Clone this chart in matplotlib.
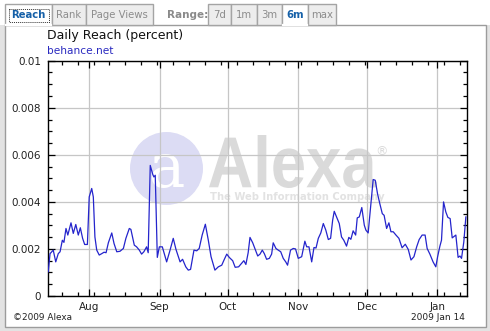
import datetime as dt
import matplotlib
matplotlib.use("Agg")
import matplotlib.pyplot as plt
import matplotlib.dates as mdates
from matplotlib.patches import Rectangle, Circle, PathPatch
from matplotlib.textpath import TextPath
from matplotlib.font_manager import FontProperties
from matplotlib.transforms import Affine2D

plt.rcParams['font.family'] = ['DejaVu Sans']

# ---------------- data ----------------
start_date = dt.datetime(2008, 7, 14)
end_date = dt.datetime(2009, 1, 14)
day_offsets = [0.1, 0.9, 2.3, 3.4, 4.5, 5.3, 6.3, 7.0, 7.9, 8.7, 10.1, 11.1, 12.2, 13.3,
               14.2, 15.2, 16.1, 17.3, 18.1, 19.2, 19.9, 20.6, 21.4, 22.5, 23.6, 24.6,
               25.5, 26.5, 28.0, 29.0, 30.2, 31.6, 33.1, 34.2, 35.7, 36.4, 37.9, 38.9,
               40.1, 41.1, 42.1, 43.3, 44.0, 44.9, 46.0, 46.5, 47.1, 48.0, 48.9, 50.2,
               52.1, 53.6, 55.0, 56.2, 58.0, 59.1, 60.5, 61.6, 62.6, 64.1, 65.3, 66.4,
               67.7, 69.1, 70.4, 71.6, 73.3, 74.8, 76.3, 77.3, 78.5, 79.6, 81.1, 82.2,
               83.7, 85.0, 86.0, 86.9, 87.9, 88.7, 89.9, 90.9, 92.1, 93.1, 94.1, 95.0,
               96.0, 97.2, 98.2, 98.9, 100.1, 101.1, 102.2, 103.3, 104.4, 105.2, 106.5,
               107.7, 108.7, 109.9, 111.4, 112.8, 113.6, 114.6, 115.8, 116.8, 117.7,
               118.7, 119.8, 120.9, 122.0, 123.1, 124.1, 125.0, 125.7, 126.7, 127.9,
               128.9, 129.9, 131.1, 132.1, 133.0, 134.0, 135.1, 135.8, 136.7, 137.8,
               138.9, 139.6, 140.6, 141.8, 142.8, 143.7, 144.7, 145.7, 146.8, 147.6,
               148.7, 149.7, 150.6, 151.6, 152.8, 154.1, 155.5, 156.9, 158.2, 159.4,
               160.7, 161.9, 163.0, 164.3, 165.6, 166.5, 167.7, 169.1, 170.3, 171.1,
               172.1, 172.8, 173.7, 174.7, 175.6, 176.6, 177.5, 179.1, 180.1, 180.9,
               181.6, 182.6, 183.5]
reach_pct = [0.00103, 0.00180, 0.00195, 0.00145, 0.00180, 0.00188, 0.00237, 0.00228,
             0.00287, 0.00259, 0.00311, 0.00266, 0.00304, 0.00259, 0.00290, 0.00245,
             0.00219, 0.00219, 0.00421, 0.00457, 0.00421, 0.00251, 0.00195, 0.00174,
             0.00180, 0.00186, 0.00184, 0.00226, 0.00268, 0.00223, 0.00188, 0.00190,
             0.00202, 0.00245, 0.00287, 0.00283, 0.00216, 0.00209, 0.00195, 0.00178,
             0.00188, 0.00209, 0.00184, 0.00555, 0.00517, 0.00506, 0.00513, 0.00164,
             0.00209, 0.00209, 0.00145, 0.00195, 0.00245, 0.00198, 0.00145, 0.00156,
             0.00124, 0.00110, 0.00113, 0.00195, 0.00192, 0.00202, 0.00259, 0.00305,
             0.00237, 0.00167, 0.00110, 0.00124, 0.00131, 0.00153, 0.00178, 0.00164,
             0.00150, 0.00122, 0.00124, 0.00139, 0.00150, 0.00134, 0.00184, 0.00249,
             0.00226, 0.00200, 0.00170, 0.00178, 0.00195, 0.00180, 0.00156, 0.00160,
             0.00178, 0.00226, 0.00202, 0.00195, 0.00188, 0.00160, 0.00145, 0.00131,
             0.00195, 0.00202, 0.00200, 0.00160, 0.00167, 0.00233, 0.00209, 0.00209,
             0.00145, 0.00206, 0.00204, 0.00245, 0.00268, 0.00308, 0.00280, 0.00240,
             0.00245, 0.00322, 0.00360, 0.00336, 0.00308, 0.00251, 0.00237, 0.00212,
             0.00249, 0.00241, 0.00277, 0.00259, 0.00332, 0.00336, 0.00376, 0.00301,
             0.00280, 0.00268, 0.00393, 0.00495, 0.00492, 0.00435, 0.00393, 0.00350,
             0.00343, 0.00287, 0.00311, 0.00273, 0.00273, 0.00259, 0.00245, 0.00205,
             0.00220, 0.00198, 0.00153, 0.00167, 0.00209, 0.00240, 0.00259, 0.00259,
             0.00202, 0.00178, 0.00145, 0.00124, 0.00167, 0.00212, 0.00237, 0.00400,
             0.00357, 0.00334, 0.00329, 0.00247, 0.00259, 0.00164, 0.00170, 0.00160,
             0.00230, 0.00336]
y_ticks = [0, 0.002, 0.004, 0.006, 0.008, 0.01]
y_tick_labels = ["0", "0.002", "0.004", "0.006", "0.008", "0.01"]
tabs_left = ["Reach", "Rank", "Page Views"]
tabs_range = ["7d", "1m", "3m", "6m", "max"]

dates = [start_date + dt.timedelta(days=d) for d in day_offsets]

# ---------------- figure ----------------
W, H = 490, 331
fig = plt.figure(figsize=(W / 100, H / 100), dpi=100)
fig.patch.set_facecolor("white")

bg = fig.add_axes([0, 0, 1, 1])
bg.set_xlim(0, W)
bg.set_ylim(H, 0)
bg.axis("off")
bg.set_zorder(0)

# outer gray frame and white panel
bg.add_patch(Rectangle((0, 25), W, H - 25, facecolor="#e3e3e3", edgecolor="none"))
bg.add_patch(Rectangle((5, 25), 480.5, 301.5, facecolor="white", edgecolor="#9c9c9c", lw=1))

# tabs
tab_edge = "#a4a4a4"
tab_bg = "#ededed"
sel_col = "#1560a8"
gray_txt = "#8c8c8c"
left_bounds = [(5, 52), (52, 86), (86, 153)]
range_bounds = [(208, 231), (231, 257), (257, 282), (282, 308), (308, 336)]
sel = {"Reach", "6m"}
for label, (x0, x1) in list(zip(tabs_left, left_bounds)) + list(zip(tabs_range, range_bounds)):
    selected = label in sel
    bg.add_patch(Rectangle((x0, 3.5), x1 - x0, 21.5,
                           facecolor="white" if selected else tab_bg,
                           edgecolor=tab_edge, lw=1, zorder=2))
    if selected:
        bg.plot([x0 + 0.6, x1 - 0.6], [25, 25], color="white", lw=1.6, zorder=3)
    bg.text((x0 + x1) / 2, 15.5, label, ha="center", va="center",
            fontsize=7.3, fontweight="bold" if selected else "normal",
            color=sel_col if selected else gray_txt, zorder=4)
# focus rectangle around Reach
bg.add_patch(Rectangle((8.5, 9), 40.5, 12.5, facecolor="none", edgecolor="#333333",
                       lw=0.7, linestyle=(0, (1, 1)), zorder=5))
bg.text(167, 14.5, "Range:", ha="left", va="center", fontsize=7.5,
        fontweight="bold", color="#8a8a8a")

# titles
bg.text(47, 36, "Daily Reach (percent)", ha="left", va="center", fontsize=9,
        color="#111111")
bg.text(47, 51, "behance.net", ha="left", va="center", fontsize=7.6, color="#2a2ac0")

# footer
bg.text(13, 318, "\u00a92009 Alexa", ha="left", va="center", fontsize=6.4, color="#222222")
bg.text(465, 318, "2009 Jan 14", ha="right", va="center", fontsize=6.5, color="#222222")

# watermark
bg.add_patch(Circle((166.5, 168.5), 36.5, facecolor="#dcdcf4", edgecolor="none", zorder=1))
bg.text(167, 170, "a", ha="center", va="center", fontsize=44, family="DejaVu Serif",
        color="white", zorder=1.5)
tp = TextPath((0, 0), "Alexa", size=1,
              prop=FontProperties(family="Liberation Sans", weight="bold"))
ext = tp.get_extents()
sx = (377 - 209) / ext.width
sy = (188 - 135) / ext.height
trans = Affine2D().translate(-ext.x0, -ext.y0).scale(sx, -sy).translate(209, 188)
bg.add_patch(PathPatch(trans.transform_path(tp), facecolor="#dadada",
                       edgecolor="none", zorder=1))
bg.text(381, 152, "\u00ae", ha="center", va="center", fontsize=9, color="#dadada", zorder=1)
bg.text(210, 197, "The Web Information Company", ha="left", va="center",
        fontsize=7.2, fontweight="bold", color="#e2e2e2", zorder=1)

# ---------------- chart ----------------
L, R, T, B = 48, 467, 60.7, 296
ax = fig.add_axes([L / W, (H - B) / H, (R - L) / W, (B - T) / H])
ax.set_zorder(2)
ax.patch.set_alpha(0)

ax.plot(dates, reach_pct, color="#2424cc", lw=0.9, zorder=3)

ax.set_xlim(start_date, end_date)
ax.set_ylim(0, 0.01)
ax.set_yticks(y_ticks)
ax.set_yticklabels(y_tick_labels)
ax.yaxis.set_minor_locator(matplotlib.ticker.MultipleLocator(0.0005))
ax.xaxis.set_major_locator(mdates.MonthLocator())
ax.xaxis.set_major_formatter(mdates.DateFormatter("%b"))
ax.xaxis.set_minor_locator(mdates.WeekdayLocator(byweekday=mdates.SU))

ax.grid(True, which="major", color="#c6c6c6", lw=0.9, zorder=0)
ax.set_axisbelow(True)
ax.tick_params(which="both", direction="in", top=True, right=True,
               colors="black", labelcolor="#222222", labelsize=7.5, width=0.9)
ax.tick_params(which="major", length=5)
ax.tick_params(which="minor", length=3)
ax.tick_params(axis="y", pad=5)
ax.tick_params(axis="x", pad=4)
for s in ax.spines.values():
    s.set_color("black")
    s.set_linewidth(1)

fig.savefig("out.png", dpi=100, facecolor="white")
